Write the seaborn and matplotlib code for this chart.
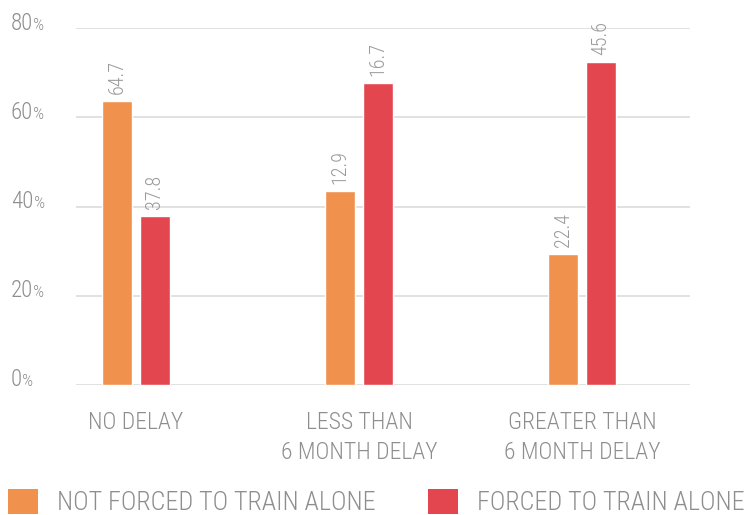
import matplotlib
matplotlib.use("Agg")
import matplotlib.pyplot as plt
import matplotlib.transforms as mtransforms
import seaborn as sns
import pandas as pd
from matplotlib.patches import Patch

categories = ["NO DELAY", "LESS THAN\n6 MONTH DELAY", "GREATER THAN\n6 MONTH DELAY"]
series_names = ["NOT FORCED TO TRAIN ALONE", "FORCED TO TRAIN ALONE"]
not_forced = [63.6, 43.4, 29.3]
forced = [37.8, 67.6, 72.3]
not_forced_labels = ["64.7", "12.9", "22.4"]
forced_labels = ["37.8", "16.7", "45.6"]
y_ticks = [0, 20, 40, 60, 80]

colors = ["#F0914E", "#E4464F"]
gray = "#8E8E8E"
FONT = ["Roboto Condensed", "DejaVu Sans"]

sns.set_theme(style="white")
plt.rcParams["font.family"] = FONT
plt.rcParams["font.weight"] = 300
plt.rcParams["font.stretch"] = "condensed"

df = pd.DataFrame({
    "cat": categories * 2,
    "series": [series_names[0]] * 3 + [series_names[1]] * 3,
    "val": not_forced + forced,
})

fig = plt.figure(figsize=(7.44, 5.15), dpi=100)
ax = fig.add_axes([76 / 744, 1 - 385 / 515, (690 - 76) / 744, (385 - 28) / 515])

sns.barplot(data=df, x="cat", y="val", hue="series", order=categories,
            hue_order=series_names, palette=colors, width=0.34, gap=0.21,
            saturation=1, ax=ax, legend=False)

for cont, labs in zip(ax.containers, [not_forced_labels, forced_labels]):
    ax.bar_label(cont, labels=labs, rotation=90, padding=5.0, fontsize=14.5,
                 color="#9A9A9A", clip_on=False)

ax.set_ylim(0, 80)
ax.set_xlim(-0.269, 2.484)
ax.set_yticks(y_ticks)
ax.set_yticklabels([])
ax.tick_params(axis="y", length=0)
ax.yaxis.grid(True, color="#DCDCDC", linewidth=1.2)
ax.set_axisbelow(True)
for s in ax.spines.values():
    s.set_visible(False)
ax.set_xlabel("")
ax.set_ylabel("")
ax.tick_params(axis="x", length=0, pad=18.5, labelsize=17, labelcolor=gray)
for t in ax.get_xticklabels():
    t.set_linespacing(1.38)

# y tick labels: number + small percent sign
trans = mtransforms.blended_transform_factory(fig.transFigure, ax.transData)
shift = mtransforms.ScaledTranslation(0, -1.5 / 100, fig.dpi_scale_trans)
nums = []
for v in y_ticks:
    t = ax.text(11 / 744, v, f"{v}", transform=trans + shift, fontsize=16.5,
                color=gray, ha="left", va="baseline", clip_on=False)
    nums.append((v, t))

fig.canvas.draw()
renderer = fig.canvas.get_renderer()
for v, t in nums:
    bb = t.get_window_extent(renderer)
    x_fig = (bb.x1 + 0.2) / fig.bbox.width
    ax.text(x_fig, v, "%", fontsize=12.5, color=gray, ha="left", va="baseline",
            transform=trans + shift, clip_on=False)

handles = [Patch(facecolor=c, edgecolor="none") for c in colors]
fig.legend(handles, series_names, loc="lower left", bbox_to_anchor=(8 / 744, 0.0),
           ncol=2, frameon=False, fontsize=18.8, handlelength=1.15, handleheight=1.1,
           handletextpad=0.73, columnspacing=2.0, borderpad=0, borderaxespad=0,
           labelcolor=gray)

fig.savefig("out.png", dpi=100)
